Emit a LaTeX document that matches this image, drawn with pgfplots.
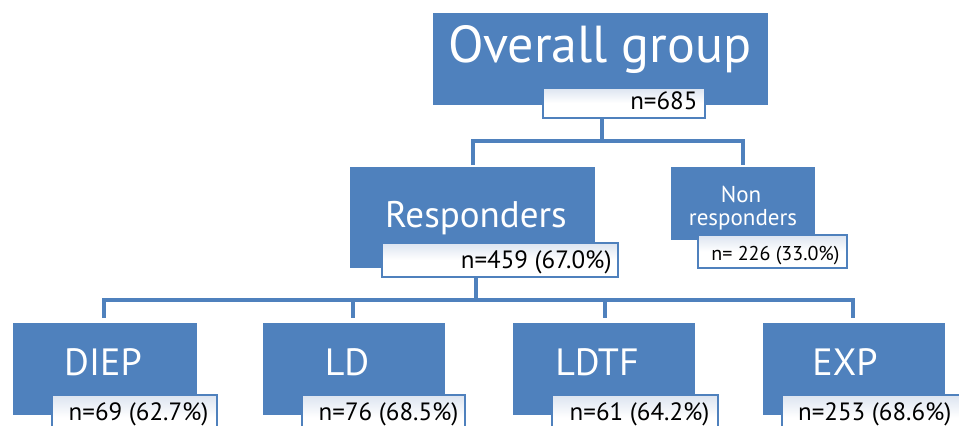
\documentclass[border=0pt]{standalone}
\usepackage{pgfplots}
\pgfplotsset{compat=1.18}
\usepackage{fontspec}
\setmainfont{PT Sans}
\definecolor{boxblue}{HTML}{4F81BD}
\definecolor{tagtop}{HTML}{DCE4F0}

% blue group box: x1 y1 x2 y2 (y grows downward)
\newcommand{\groupbox}[4]{%
  \fill[boxblue] (axis cs:#1,#2) rectangle (axis cs:#3,#4);}
% white count tag with a light top shade
\newcommand{\counttag}[4]{%
  \shade[top color=tagtop, bottom color=white, middle color=white,
         draw=boxblue, line width=1.6bp]
    (axis cs:#1,#2) rectangle (axis cs:#3,#4);}
\newcommand{\fs}[1]{\fontsize{#1bp}{#1bp}\selectfont}

\begin{document}
\begin{tikzpicture}
\begin{axis}[
  scale only axis, width=959bp, height=426bp,
  xmin=0, xmax=959, ymin=0, ymax=426, y dir=reverse,
  axis lines=none, clip=false,
]
% connectors
\draw[boxblue, line width=4bp]
  (axis cs:602,116) -- (axis cs:602,141)
  (axis cs:473,165) -- (axis cs:473,141) -- (axis cs:743,141) -- (axis cs:743,165)
  (axis cs:476,275) -- (axis cs:476,300)
  (axis cs:104,318) -- (axis cs:104,300) -- (axis cs:853,300) -- (axis cs:853,318)
  (axis cs:353,300) -- (axis cs:353,318)
  (axis cs:605,300) -- (axis cs:605,318);

% overall group
\groupbox{433}{13}{768}{105}
\counttag{543}{88}{705}{118}
\node[anchor=base, text=white, font=\fs{52}] at (axis cs:600,63) {Overall group};
\node[anchor=base east, font=\fs{25}] at (axis cs:701,110) {n=685};

% responders
\groupbox{350}{167}{595}{268}
\counttag{382}{243}{618}{277}
\node[anchor=base, text=white, font=\fs{37}] at (axis cs:476,227) {Responders};
\node[anchor=base east, font=\fs{25}] at (axis cs:615,268) {n=459 (67.0\%)};

% non responders
\groupbox{671}{167}{815}{240}
\counttag{698}{235}{847}{268}
\node[anchor=base, text=white, font=\fs{23}] at (axis cs:741,202) {Non};
\node[anchor=base, text=white, font=\fs{23}] at (axis cs:743,225) {responders};
\node[anchor=base east, font=\fs{20}] at (axis cs:843,260) {n= 226 (33.0\%)};

% reconstruction types
\groupbox{13}{323}{197}{415}
\counttag{52}{395}{217}{440}
\node[anchor=base, text=white, font=\fs{38}] at (axis cs:103,375) {DIEP};
\node[anchor=base east, font=\fs{25}] at (axis cs:212,420) {n=69 (62.7\%)};

\groupbox{263}{323}{445}{415}
\counttag{302}{395}{465}{440}
\node[anchor=base, text=white, font=\fs{38}] at (axis cs:347,375) {LD};
\node[anchor=base east, font=\fs{25}] at (axis cs:462,420) {n=76 (68.5\%)};

\groupbox{513}{323}{695}{415}
\counttag{552}{395}{718}{440}
\node[anchor=base, text=white, font=\fs{38}] at (axis cs:597,375) {LDTF};
\node[anchor=base east, font=\fs{25}] at (axis cs:713,420) {n=61 (64.2\%)};

\groupbox{763}{323}{945}{415}
\counttag{782}{395}{970}{440}
\node[anchor=base, text=white, font=\fs{38}] at (axis cs:845,375) {EXP};
\node[anchor=base east, font=\fs{25}] at (axis cs:955,420) {n=253 (68.6\%)};
\end{axis}
\pgfresetboundingbox
\useasboundingbox (current axis.south west) rectangle (current axis.north east);
\end{tikzpicture}
\end{document}
